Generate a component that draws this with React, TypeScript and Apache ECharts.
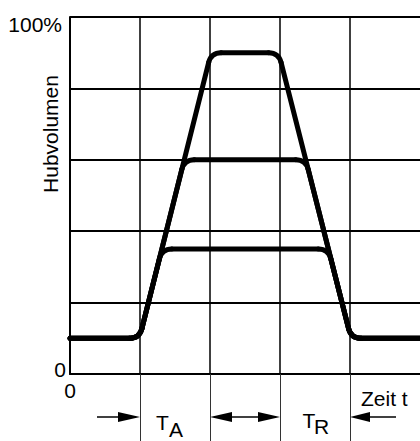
import React, { useEffect, useRef } from 'react';
import * as echarts from 'echarts';

const FONT = '"Liberation Sans", Arial, Helvetica, sans-serif';

// x in grid cells (0..5), y in percent of stroke volume
const baseLevel = 10;
const plateauLevels = [90, 60, 35];
const riseStartX = [0.992, 0.992, 0.992];
const riseEndX = [2.016, 1.632, 1.312];
const fallStartX = [2.98, 3.368, 3.69];
const fallEndX = [4.015, 4.015, 4.015];
const curveStartX = 0;
const curveEndX = 5;

const yLabelValues = [0, 100];
const yLabelTexts = ['0', '100%'];
const xLabelValues = [0];
const xLabelTexts = ['0'];
const phaseTickValues = [1, 2, 3, 4];

const yAxisTitle = 'Hubvolumen';
const xAxisTitle = 'Zeit t';
const phaseNames = [
  { main: 'T', sub: 'A' },
  { main: 'T', sub: 'R' },
];

const CORNER_R = 10;

export default function App() {
  const ref = useRef<HTMLDivElement>(null);

  useEffect(() => {
    if (!ref.current) return;
    const chart = echarts.init(ref.current, undefined, { renderer: 'svg' });

    const strokeStyle = { stroke: '#000', lineWidth: 5, lineCap: 'round', fill: null };

    const renderItem = (params: any, api: any) => {
      const i = api.value(0);
      const p = plateauLevels[i];
      const verts = [
        [curveStartX, baseLevel],
        [riseStartX[i], baseLevel],
        [riseEndX[i], p],
        [fallStartX[i], p],
        [fallEndX[i], baseLevel],
        [curveEndX, baseLevel],
      ].map((v) => api.coord(v));
      const children: any[] = [];
      let cur = verts[0];
      for (let k = 1; k < verts.length - 1; k++) {
        const P = verts[k - 1], V = verts[k], N = verts[k + 1];
        const d1 = Math.hypot(P[0] - V[0], P[1] - V[1]);
        const d2 = Math.hypot(N[0] - V[0], N[1] - V[1]);
        const r = Math.min(CORNER_R, d1 / 2, d2 / 2);
        const T1 = [V[0] + ((P[0] - V[0]) / d1) * r, V[1] + ((P[1] - V[1]) / d1) * r];
        const T2 = [V[0] + ((N[0] - V[0]) / d2) * r, V[1] + ((N[1] - V[1]) / d2) * r];
        children.push({
          type: 'line',
          shape: { x1: cur[0], y1: cur[1], x2: T1[0], y2: T1[1] },
          style: strokeStyle,
        });
        children.push({
          type: 'bezierCurve',
          shape: { x1: T1[0], y1: T1[1], x2: T2[0], y2: T2[1], cpx1: V[0], cpy1: V[1] },
          style: strokeStyle,
        });
        cur = T2;
      }
      const last = verts[verts.length - 1];
      children.push({
        type: 'line',
        shape: { x1: cur[0], y1: cur[1], x2: last[0], y2: last[1] },
        style: strokeStyle,
      });
      return { type: 'group', children };
    };

    const option: any = {
      animation: false,
      grid: { left: 70, top: 17, width: 357, height: 357 },
      xAxis: {
        type: 'value',
        min: 0,
        max: 5,
        interval: 1,
        axisLine: { show: true, lineStyle: { color: '#000', width: 2 } },
        axisTick: {
          show: true,
          customValues: phaseTickValues,
          length: 67,
          lineStyle: { color: '#333', width: 1 },
        },
        splitLine: { show: true, lineStyle: { color: '#000', width: 1.5 } },
        axisLabel: {
          customValues: xLabelValues,
          formatter: (v: number) => xLabelTexts[xLabelValues.indexOf(v)] ?? '',
          margin: 6,
          color: '#000',
          fontFamily: FONT,
          fontSize: 21,
        },
      },
      yAxis: {
        type: 'value',
        min: 0,
        max: 100,
        interval: 20,
        axisLine: { show: true, lineStyle: { color: '#000', width: 2 } },
        axisTick: { show: false },
        splitLine: { show: true, lineStyle: { color: '#000', width: 2 } },
        axisLabel: {
          customValues: yLabelValues,
          formatter: (v: number) => {
            const t = yLabelTexts[yLabelValues.indexOf(v)] ?? '';
            return v === 100 ? `{a|${t}}` : `{b|${t}}`;
          },
          margin: 4,
          color: '#000',
          fontFamily: FONT,
          fontSize: 21,
          rich: {
            a: { fontFamily: FONT, fontSize: 21, color: '#000', padding: [15, 4, 0, 0] },
            b: { fontFamily: FONT, fontSize: 21, color: '#000', padding: [0, 0, 10, 0] },
          },
        },
      },
      series: [
        {
          type: 'custom',
          clip: false,
          silent: true,
          renderItem,
          data: plateauLevels.map((p, i) => [i, p]),
        },
      ],
    };
    chart.setOption(option);

    const px = (x: number) => chart.convertToPixel({ xAxisIndex: 0 } as any, x) as number;
    const py = (y: number) => chart.convertToPixel({ yAxisIndex: 0 } as any, y) as number;
    const x1 = px(1), x2 = px(2), x3 = px(3), x4 = px(4), x0 = px(0);
    const y0 = py(0);
    const ay = y0 + 43;
    const hl = 22, hh = 5;
    const txt = (text: string, x: number, y: number, extra: any = {}) => ({
      type: 'text',
      x,
      y,
      silent: true,
      ...extra,
      style: {
        text,
        fill: '#000',
        font: `21px ${FONT}`,
        fontSize: 21,
        fontFamily: FONT,
        align: extra.align || 'left',
        textAlign: extra.align || 'left',
        verticalAlign: 'middle',
        textVerticalAlign: 'middle',
      },
    });
    const shaft = (xa: number, xb: number) => ({
      type: 'line',
      silent: true,
      shape: { x1: xa, y1: ay, x2: xb, y2: ay },
      style: { stroke: '#000', lineWidth: 1.3 },
    });
    const head = (tip: number, dir: number, len: number) => ({
      type: 'polygon',
      silent: true,
      shape: { points: [[tip, ay], [tip - dir * len, ay - hh], [tip - dir * len, ay + hh]] },
      style: { fill: '#000' },
    });

    chart.setOption({
      graphic: [
        txt(yAxisTitle, x0 - 19.5, 134, { rotation: Math.PI / 2, align: 'center' }),
        txt(xAxisTitle, x4 + 11, 398.5),
        txt(phaseNames[0].main, x1 + 16, ay + 5),
        txt(phaseNames[0].sub, x1 + 29, ay + 12),
        txt(phaseNames[1].main, x3 + 22.5, ay + 3.5),
        txt(phaseNames[1].sub, x3 + 34, ay + 9),
        shaft(x1 - 43, x1 - 4),
        head(x1, 1, hl),
        shaft(x2 + 4, x3 - 4),
        head(x2, -1, hl),
        head(x3, 1, hl),
        shaft(x4 + 4, x4 + 46),
        head(x4, -1, 20),
      ],
    });

    return () => chart.dispose();
  }, []);

  return (
    <div
      ref={ref}
      style={{ position: 'fixed', left: 0, top: 0, width: 420, height: 441, background: '#fff' }}
    />
  );
}
